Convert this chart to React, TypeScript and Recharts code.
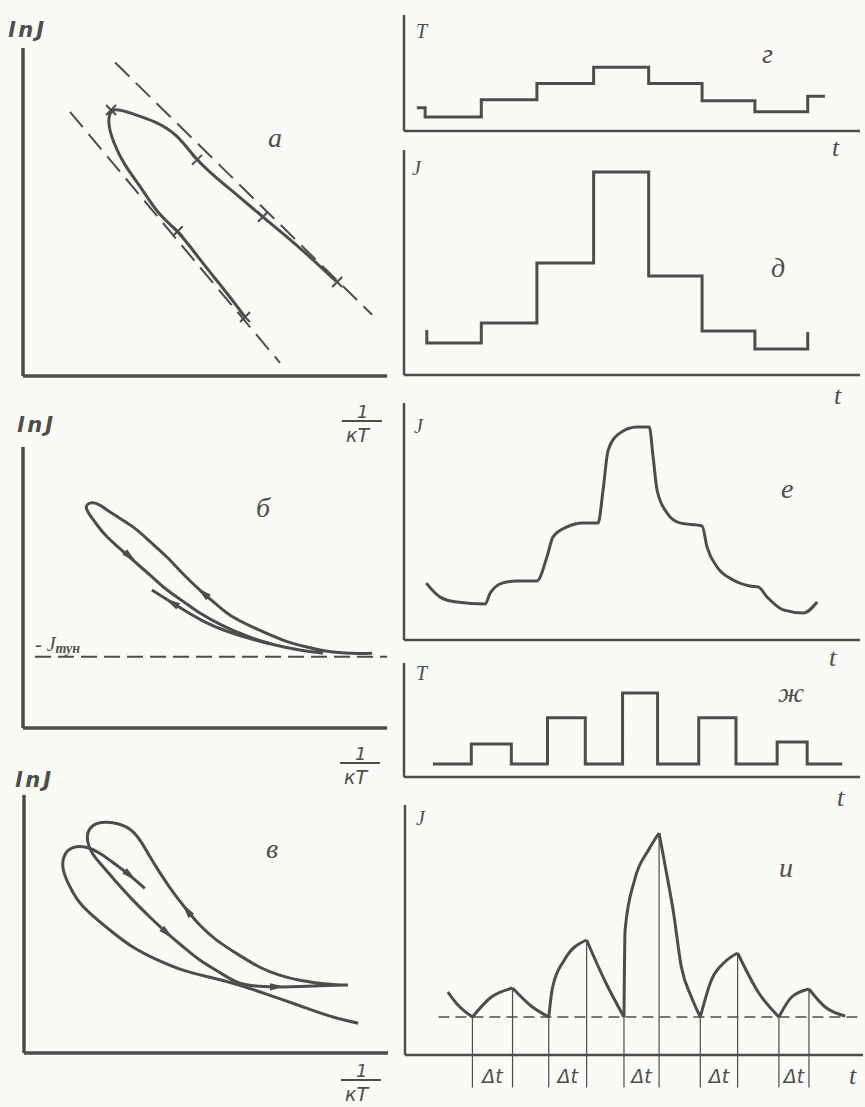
import React from 'react';
import { LineChart, Line, XAxis, YAxis, ReferenceLine, ReferenceDot, Label } from 'recharts';

const INK = '#4d4d4d';
const PAPER = '#fafaf7';
const SERIF = '"Liberation Serif", serif';
const SANS = '"DejaVu Sans", sans-serif';

// ---- left column: lnJ vs 1/kT (units: equal scale on both axes) ----
const aAsymUpper = [{ x: 2.53, y: 8.6 }, { x: 9.59, y: 1.68 }];
const aAsymLower = [{ x: 1.29, y: 7.25 }, { x: 7.06, y: 0.36 }];
const aHook = [
  { x: 6.1, y: 1.62 }, { x: 5.5, y: 2.4 }, { x: 4.9, y: 3.15 }, { x: 4.3, y: 3.9 },
  { x: 3.75, y: 4.45 }, { x: 3.25, y: 5.15 }, { x: 2.8, y: 5.8 }, { x: 2.5, y: 6.4 },
  { x: 2.36, y: 6.95 }, { x: 2.5, y: 7.3 }, { x: 3.0, y: 7.2 }, { x: 3.6, y: 6.98 },
  { x: 4.2, y: 6.6 }, { x: 4.75, y: 5.98 }, { x: 5.3, y: 5.45 }, { x: 5.9, y: 4.95 },
  { x: 6.55, y: 4.4 }, { x: 7.2, y: 3.86 }, { x: 7.9, y: 3.25 }, { x: 8.6, y: 2.6 },
];
const aMarks = [
  { x: 2.42, y: 7.3 }, { x: 4.78, y: 5.93 }, { x: 6.59, y: 4.37 },
  { x: 8.63, y: 2.58 }, { x: 4.25, y: 3.97 }, { x: 6.1, y: 1.62 },
];

const bLoop = [
  { x: 8.24, y: 2.05 }, { x: 7.6, y: 2.14 }, { x: 6.9, y: 2.28 }, { x: 6.2, y: 2.5 },
  { x: 5.5, y: 2.8 }, { x: 4.86, y: 3.15 }, { x: 4.4, y: 3.47 }, { x: 3.96, y: 3.78 },
  { x: 3.5, y: 4.18 }, { x: 3.02, y: 4.6 }, { x: 2.6, y: 4.97 }, { x: 2.25, y: 5.3 },
  { x: 1.95, y: 5.68 }, { x: 1.74, y: 6.03 }, { x: 1.88, y: 6.17 }, { x: 2.12, y: 6.1 },
  { x: 2.5, y: 5.85 }, { x: 3.02, y: 5.51 }, { x: 3.5, y: 5.1 }, { x: 3.96, y: 4.68 },
  { x: 4.4, y: 4.22 }, { x: 4.86, y: 3.78 }, { x: 5.3, y: 3.4 }, { x: 5.77, y: 3.04 },
  { x: 6.45, y: 2.7 }, { x: 7.14, y: 2.41 }, { x: 7.8, y: 2.22 }, { x: 8.52, y: 2.08 },
  { x: 9.2, y: 2.04 }, { x: 9.59, y: 2.05 },
];
const bInner = [
  { x: 3.54, y: 3.78 }, { x: 4.12, y: 3.42 }, { x: 5.05, y: 2.88 }, { x: 6.0, y: 2.52 }, { x: 6.8, y: 2.3 },
];
const bArrows = [
  { x: 2.94, y: 4.7, dx: 1, dy: -0.85 },
  { x: 4.95, y: 3.7, dx: -1, dy: 0.85 },
  { x: 4.1, y: 3.43, dx: -1, dy: 0.6 },
];
const bTunnel = 1.95;

const cOuter = [
  { x: 9.18, y: 0.82 }, { x: 8.49, y: 0.99 }, { x: 7.8, y: 1.22 }, { x: 7.12, y: 1.46 },
  { x: 6.43, y: 1.7 }, { x: 5.74, y: 1.92 }, { x: 5.05, y: 2.1 }, { x: 4.37, y: 2.28 },
  { x: 3.65, y: 2.57 }, { x: 3.0, y: 2.91 }, { x: 2.4, y: 3.35 }, { x: 1.81, y: 3.85 },
  { x: 1.45, y: 4.25 }, { x: 1.2, y: 4.7 }, { x: 1.07, y: 5.11 }, { x: 1.12, y: 5.45 },
  { x: 1.35, y: 5.65 }, { x: 1.7, y: 5.66 }, { x: 2.09, y: 5.49 }, { x: 2.5, y: 5.2 },
  { x: 2.83, y: 4.95 }, { x: 3.32, y: 4.53 },
];
const cInner = [
  { x: 8.9, y: 1.87 }, { x: 8.3, y: 1.9 }, { x: 7.58, y: 2.0 }, { x: 7.0, y: 2.15 },
  { x: 6.48, y: 2.36 }, { x: 5.9, y: 2.7 }, { x: 5.3, y: 3.1 }, { x: 4.85, y: 3.5 },
  { x: 4.48, y: 3.93 }, { x: 4.1, y: 4.42 }, { x: 3.74, y: 4.95 }, { x: 3.45, y: 5.42 },
  { x: 3.19, y: 5.85 }, { x: 2.83, y: 6.21 }, { x: 2.28, y: 6.35 }, { x: 1.9, y: 6.26 },
  { x: 1.74, y: 5.95 }, { x: 1.85, y: 5.55 }, { x: 2.09, y: 5.22 }, { x: 2.5, y: 4.75 },
  { x: 3.0, y: 4.2 }, { x: 3.45, y: 3.75 }, { x: 3.93, y: 3.3 }, { x: 4.4, y: 2.9 },
  { x: 4.84, y: 2.55 }, { x: 5.4, y: 2.2 }, { x: 5.93, y: 1.92 }, { x: 6.45, y: 1.84 },
  { x: 6.95, y: 1.82 }, { x: 7.6, y: 1.83 }, { x: 8.3, y: 1.86 }, { x: 8.9, y: 1.87 },
];
const cArrows = [
  { x: 2.91, y: 4.89, dx: 1, dy: -0.85 },
  { x: 4.48, y: 3.93, dx: -0.75, dy: 1 },
  { x: 3.93, y: 3.3, dx: 1, dy: -0.9 },
  { x: 6.95, y: 1.82, dx: 1, dy: 0 },
];

// ---- right column: T, J vs t ----
const stepTimes = [1.39, 2.39, 3.41, 4.4, 5.36, 6.31, 7.26];
const gLevels = [2.7, 4.1, 5.5, 4.1, 2.6, 1.65, 3.0];
const dLevels = [2.31, 4.98, 9.02, 4.4, 1.96, 1.16, 1.91];

const gTemp = [
  { x: 0.23, y: 2.0 }, { x: 0.38, y: 1.2 },
  ...stepTimes.map((t, i) => ({ x: t, y: gLevels[i] })),
  { x: 7.57, y: 3.0 },
];
const dCurrent = [
  { x: 0.41, y: 2.0 }, { x: 0.41, y: 1.42 },
  ...stepTimes.map((t, i) => ({ x: t, y: dLevels[i] })),
];

const eCurrent = [
  { x: 0.4, y: 2.4 }, { x: 0.65, y: 1.81 }, { x: 0.95, y: 1.6 }, { x: 1.46, y: 1.52 },
  { x: 1.55, y: 1.98 }, { x: 1.78, y: 2.41 }, { x: 2.03, y: 2.49 }, { x: 2.39, y: 2.49 },
  { x: 2.57, y: 3.5 }, { x: 2.68, y: 4.35 }, { x: 2.93, y: 4.77 }, { x: 3.22, y: 4.94 },
  { x: 3.49, y: 4.94 }, { x: 3.58, y: 6.33 }, { x: 3.67, y: 8.0 }, { x: 3.88, y: 8.73 },
  { x: 4.19, y: 8.99 }, { x: 4.41, y: 8.99 }, { x: 4.48, y: 7.72 }, { x: 4.55, y: 6.33 },
  { x: 4.73, y: 5.36 }, { x: 4.96, y: 4.94 }, { x: 5.36, y: 4.81 }, { x: 5.45, y: 3.92 },
  { x: 5.63, y: 3.08 }, { x: 5.92, y: 2.53 }, { x: 6.22, y: 2.28 }, { x: 6.37, y: 2.24 },
  { x: 6.53, y: 1.81 }, { x: 6.82, y: 1.27 }, { x: 7.18, y: 1.14 }, { x: 7.43, y: 1.6 },
];

const pulseOn = [1.21, 2.58, 3.93, 5.3, 6.71];
const pulseOff = [1.93, 3.26, 4.56, 5.97, 7.25];
const zhLevels = [2.9, 5.2, 7.37, 5.2, 3.07];
const zhBase = 1.14;
const zhTemp = [
  { x: 0.52, y: zhBase },
  ...pulseOn.flatMap((t, i) => [{ x: t, y: zhLevels[i] }, { x: pulseOff[i], y: zhBase }]),
  { x: 7.88, y: zhBase },
];

const iBase = 1.52;
const iPeaks = [2.68, 4.6, 8.88, 4.08, 2.64];
const iArcs = [
  [{ x: 0.77, y: 2.52 }, { x: 0.95, y: 2.0 }, { x: 1.21, y: 1.52 }],
  [{ x: 1.21, y: 1.52 }, { x: 1.55, y: 2.32 }, { x: 1.93, y: 2.68 }],
  [{ x: 1.93, y: 2.68 }, { x: 2.27, y: 1.95 }, { x: 2.58, y: 1.52 }],
  [{ x: 2.58, y: 1.52 }, { x: 2.65, y: 2.72 }, { x: 2.86, y: 3.8 }, { x: 3.26, y: 4.6 }],
  [{ x: 3.26, y: 4.6 }, { x: 3.58, y: 3.0 }, { x: 3.93, y: 1.52 }],
  [{ x: 3.93, y: 1.52 }, { x: 3.95, y: 5.0 }, { x: 4.12, y: 7.0 }, { x: 4.37, y: 8.2 }, { x: 4.56, y: 8.88 }],
  [{ x: 4.56, y: 8.88 }, { x: 4.66, y: 7.68 }, { x: 4.82, y: 5.68 }, { x: 4.96, y: 3.52 }, { x: 5.14, y: 2.32 }, { x: 5.3, y: 1.52 }],
  [{ x: 5.3, y: 1.52 }, { x: 5.5, y: 3.0 }, { x: 5.74, y: 3.72 }, { x: 5.97, y: 4.08 }],
  [{ x: 5.97, y: 4.08 }, { x: 6.35, y: 2.48 }, { x: 6.71, y: 1.52 }],
  [{ x: 6.71, y: 1.52 }, { x: 6.94, y: 2.32 }, { x: 7.25, y: 2.64 }],
  [{ x: 7.25, y: 2.64 }, { x: 7.54, y: 1.92 }, { x: 7.9, y: 1.56 }],
];

type Box = { x0: number; x1: number; y0: number; y1: number };

const arrowDot = (p: any) => {
  const { cx, cy, payload, index } = p;
  if (cx == null || cy == null) return <g key={`ar-${index}`} />;
  const ang = (Math.atan2(-payload.dy, payload.dx) * 180) / Math.PI;
  return (
    <path key={`ar-${index}`} d="M8,0 L-7,-3.6 L-7,3.6 Z" fill={INK}
      transform={`translate(${cx},${cy}) rotate(${ang})`} />
  );
};

const crossDot = (p: any) => {
  const { cx, cy, index } = p;
  if (cx == null || cy == null) return <g key={`cr-${index}`} />;
  return (
    <path key={`cr-${index}`} d="M-5,-5L5,5M-5,5L5,-5" stroke={INK} strokeWidth={2}
      transform={`translate(${cx},${cy})`} />
  );
};

// axes need a non-zero size or they are not drawn, so each takes 1px off the margin
function Panel({ box, xMax, yMax, axisW, padB = 14, children }: {
  box: Box; xMax: number; yMax: number; axisW: number; padB?: number; children: React.ReactNode;
}) {
  const pad = 14;
  const w = box.x1 - box.x0 + 2 * pad;
  const h = box.y1 - box.y0 + pad + padB;
  return (
    <div style={{ position: 'absolute', left: box.x0 - pad, top: box.y0 - pad }}>
      <LineChart width={w} height={h} margin={{ top: pad, right: pad, bottom: padB - 1, left: pad - 1 }}>
        <XAxis type="number" dataKey="x" domain={[0, xMax]} allowDataOverflow height={1}
          tick={false} tickLine={false} axisLine={{ stroke: INK, strokeWidth: axisW }} />
        <YAxis type="number" dataKey="y" domain={[0, yMax]} allowDataOverflow width={1}
          tick={false} tickLine={false} axisLine={{ stroke: INK, strokeWidth: axisW }} />
        {children}
      </LineChart>
    </div>
  );
}

const line = (key: string, data: any[], type: any, extra: any = {}) => (
  <Line key={key} data={data} dataKey="y" type={type} stroke={INK} strokeWidth={3}
    dot={false} activeDot={false} isAnimationActive={false} {...extra} />
);

function Txt({ left, top, size, children, font = SERIF, bold = false, italic = true, spacing = 0 }: any) {
  return (
    <div style={{
      position: 'absolute', left, top, fontSize: size, lineHeight: 1, fontFamily: font,
      fontStyle: italic ? 'italic' : 'normal', fontWeight: bold ? 700 : 400, color: INK,
      whiteSpace: 'nowrap', letterSpacing: spacing,
    }}>{children}</div>
  );
}

function Frac({ left, bar }: { left: number; bar: number }) {
  return (
    <>
      <Txt left={left + 15} top={bar - 18} size={18} font={SANS}>1</Txt>
      <div style={{ position: 'absolute', left, top: bar - 1, width: 40, height: 2, background: INK }} />
      <Txt left={left + 4} top={bar + 5} size={19} font={SANS}>кT</Txt>
    </>
  );
}

export default function App() {
  const right = (y0: number, y1: number): Box => ({ x0: 404, x1: 860, y0, y1 });
  return (
    <div style={{ position: 'absolute', left: 0, top: 0, width: 865, height: 1107, background: PAPER, overflow: 'hidden' }}>
      {/* а */}
      <Panel box={{ x0: 23, x1: 387, y0: 48, y1: 376 }} xMax={10} yMax={9} axisW={3.5}>
        {line('au', aAsymUpper, 'linear', { strokeWidth: 2, strokeDasharray: '20 9' })}
        {line('al', aAsymLower, 'linear', { strokeWidth: 2, strokeDasharray: '20 9' })}
        {line('ah', aHook, 'natural')}
        {line('am', aMarks, 'linear', { stroke: 'none', dot: crossDot })}
      </Panel>

      {/* б */}
      <Panel box={{ x0: 23, x1: 387, y0: 447, y1: 728 }} xMax={10} yMax={7.7} axisW={3.5}>
        <ReferenceLine segment={[{ x: 0.33, y: bTunnel }, { x: 10, y: bTunnel }]} stroke={INK}
          strokeWidth={2} strokeDasharray="16 7" ifOverflow="visible" />
        {line('bl', bLoop, 'natural')}
        {line('bi', bInner, 'natural')}
        {line('ba', bArrows, 'linear', { stroke: 'none', dot: arrowDot })}
      </Panel>

      {/* в */}
      <Panel box={{ x0: 24, x1: 388, y0: 795, y1: 1053 }} xMax={10} yMax={7.1} axisW={3.5}>
        {line('co', cOuter, 'natural')}
        {line('ci', cInner, 'natural')}
        {line('ca', cArrows, 'linear', { stroke: 'none', dot: arrowDot })}
      </Panel>

      {/* г */}
      <Panel box={right(15, 131)} xMax={8.2} yMax={10} axisW={2.5}>
        {line('g', gTemp, 'stepAfter')}
      </Panel>

      {/* д */}
      <Panel box={right(150, 375)} xMax={8.2} yMax={10} axisW={2.5}>
        {line('d', dCurrent, 'stepAfter')}
      </Panel>

      {/* е */}
      <Panel box={right(403, 640)} xMax={8.2} yMax={10} axisW={2.5}>
        {line('e', eCurrent, 'monotone')}
      </Panel>

      {/* ж */}
      <Panel box={right(663, 777)} xMax={8.2} yMax={10} axisW={2.5}>
        {line('zh', zhTemp, 'stepAfter')}
      </Panel>

      {/* и */}
      <Panel box={{ x0: 405, x1: 863, y0: 805, y1: 1055 }} xMax={8.22} yMax={10} axisW={2.5} padB={45}>
        <ReferenceLine segment={[{ x: 0.6, y: iBase }, { x: 8.22, y: iBase }]} stroke={INK}
          strokeWidth={1.6} strokeDasharray="11 6" ifOverflow="visible" />
        {pulseOn.map((t, i) => (
          <ReferenceLine key={`von${i}`} segment={[{ x: t, y: iBase }, { x: t, y: -1.3 }]}
            stroke={INK} strokeWidth={1.2} ifOverflow="visible" />
        ))}
        {pulseOff.map((t, i) => (
          <ReferenceLine key={`voff${i}`} segment={[{ x: t, y: iPeaks[i] }, { x: t, y: -1.3 }]}
            stroke={INK} strokeWidth={1.2} ifOverflow="visible" />
        ))}
        {pulseOn.map((t, i) => (
          <ReferenceDot key={`dt${i}`} x={(t + pulseOff[i]) / 2} y={-0.84} r={0} fill="none" stroke="none"
            ifOverflow="visible">
            <Label value="Δt" position="center" fill={INK} fontSize={19} fontStyle="italic"
              fontFamily={SANS} />
          </ReferenceDot>
        ))}
        {iArcs.map((arc, i) => line(`i${i}`, arc, 'monotone'))}
      </Panel>

      {/* axis captions, left */}
      <Txt left={8} top={20} size={21} font={SANS} bold spacing={3}>lnJ</Txt>
      <Txt left={17} top={415} size={21} font={SANS} bold spacing={3}>lnJ</Txt>
      <Txt left={15} top={770} size={21} font={SANS} bold spacing={3}>lnJ</Txt>
      <Frac left={342} bar={421} />
      <Frac left={340} bar={763} />
      <Frac left={341} bar={1080} />
      <div style={{ position: 'absolute', left: 35, top: 634, fontFamily: SERIF, fontStyle: 'italic', color: INK, lineHeight: 1, whiteSpace: 'nowrap' }}>
        <span style={{ fontSize: 20 }}>- J</span>
        <span style={{ fontSize: 14, fontWeight: 700, position: 'relative', top: 2 }}>тун</span>
      </div>

      {/* panel letters */}
      <Txt left={268} top={124} size={28}>а</Txt>
      <Txt left={256} top={494} size={28}>б</Txt>
      <Txt left={266} top={835} size={28}>в</Txt>
      <Txt left={762} top={40} size={28}>г</Txt>
      <Txt left={771} top={254} size={28}>д</Txt>
      <Txt left={781} top={475} size={28}>е</Txt>
      <Txt left={778} top={679} size={28}>ж</Txt>
      <Txt left={779} top={854} size={28}>и</Txt>

      {/* axis captions, right */}
      <Txt left={416} top={21} size={20}>T</Txt>
      <Txt left={412} top={158} size={20}>J</Txt>
      <Txt left={414} top={416} size={20}>J</Txt>
      <Txt left={416} top={663} size={20}>T</Txt>
      <Txt left={416} top={808} size={20}>J</Txt>
      <Txt left={832} top={135} size={26}>t</Txt>
      <Txt left={834} top={383} size={26}>t</Txt>
      <Txt left={829} top={645} size={26}>t</Txt>
      <Txt left={837} top={785} size={26}>t</Txt>
      <Txt left={849} top={1063} size={26}>t</Txt>
    </div>
  );
}
